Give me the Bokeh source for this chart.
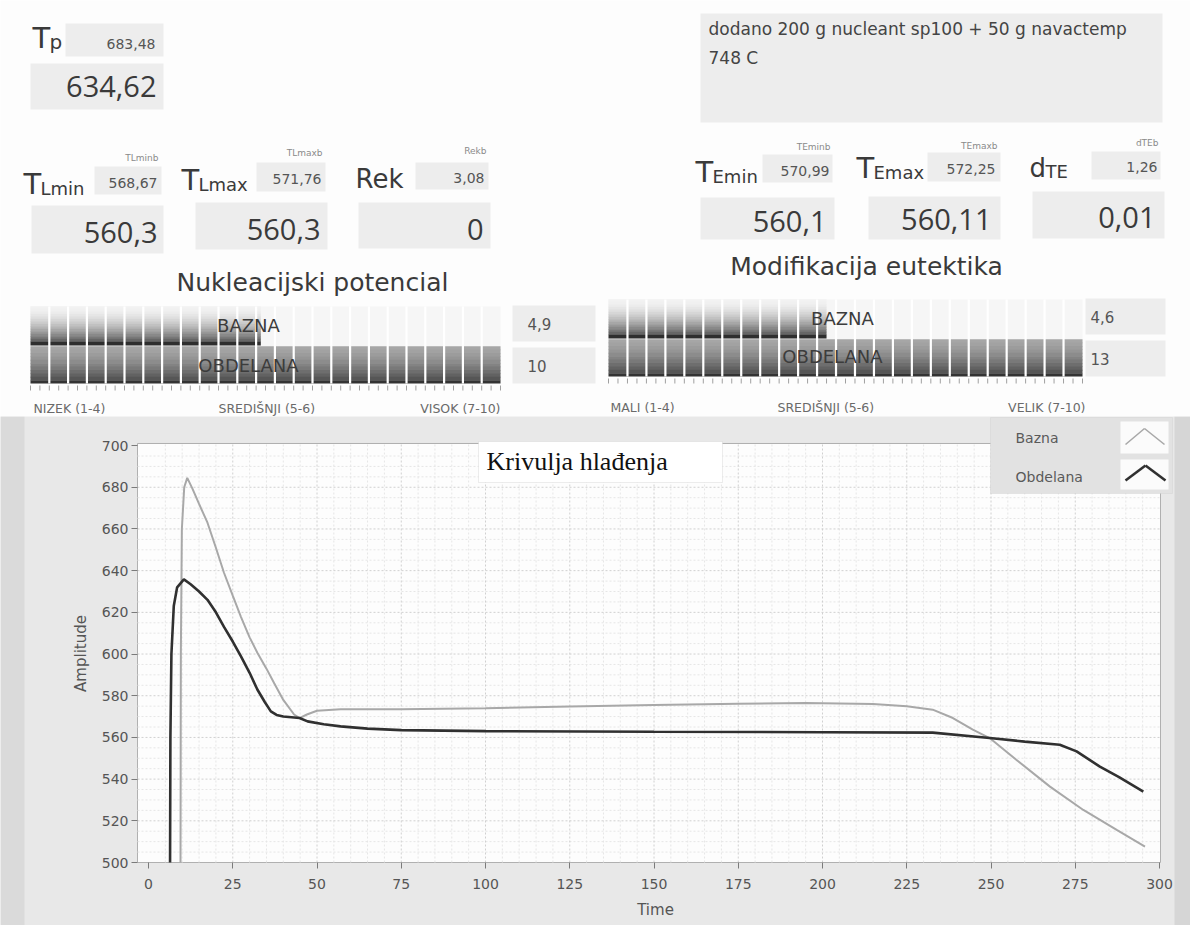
import numpy as np
from bokeh.plotting import figure
from bokeh.models import Range1d, Label, BoxAnnotation, Arrow, FixedTicker, ColumnDataSource, LinearAxis
from bokeh.layouts import column
from bokeh.embed import file_html
from bokeh.resources import INLINE
from bokeh.core.properties import value

# ---------------- data ----------------
series_names = ["Bazna", "Obdelana"]
time_bazna = [9.5, 9.6, 9.9, 10.6, 11.5, 13.0, 15.0, 17.5, 20.0, 22.4, 25.0, 27.4, 30.0, 32.3,
              35.0, 37.3, 40.0, 43.2, 44.8, 47.0, 50.0, 57.0, 75.0, 100.0, 125.0, 150.0, 175.0,
              195.0, 215.0, 225.0, 232.7, 238.7, 244.6, 249.6, 257.5, 267.5, 277.4, 287.3, 295.7]
temp_bazna = [500, 600, 660, 680, 684.5, 679.5, 672, 663, 651, 639, 628, 618, 608, 600.6,
              593, 586, 578, 571, 569.3, 571, 572.8, 573.5, 573.5, 574, 574.8, 575.5, 576.2,
              576.5, 576, 575, 573.3, 569.3, 563.7, 559.7, 549.3, 536.4, 525.2, 515.6, 507.6]
time_obdelana = [6.4, 6.5, 6.8, 7.5, 8.5, 10.5, 12.5, 15.0, 17.5, 20.0, 22.4, 25.0, 27.4, 30.0,
                 32.3, 34.5, 36.3, 38.0, 40.0, 44.8, 47.2, 52.0, 57.0, 65.0, 75.0, 100.0, 150.0,
                 200.0, 232.7, 249.6, 260.0, 270.4, 275.4, 282.3, 288.0, 295.2]
temp_obdelana = [500, 560, 600, 623, 632, 635.8, 633.5, 630, 626, 620, 613, 606, 599, 591,
                 583, 577, 572.5, 570.8, 570, 569.3, 567.7, 566.3, 565.3, 564.2, 563.5, 563, 562.7,
                 562.5, 562.3, 559.7, 558, 556.5, 553.3, 546, 541, 534]
x_ticks = [0, 25, 50, 75, 100, 125, 150, 175, 200, 225, 250, 275, 300]
y_ticks = [500, 520, 540, 560, 580, 600, 620, 640, 660, 680, 700]
chart_title = "Krivulja hlađenja"
x_label = "Time"
y_label = "Amplitude"

indicator_main = ["T", "T", "T", "Rek", "T", "T", "d"]
indicator_sub = ["p", "Lmin", "Lmax", "", "Emin", "Emax", "TE"]
indicator_ref_names = ["", "TLminb", "TLmaxb", "Rekb", "TEminb", "TEmaxb", "dTEb"]
indicator_ref_values = ["683,48", "568,67", "571,76", "3,08", "570,99", "572,25", "1,26"]
indicator_values = ["634,62", "560,3", "560,3", "0", "560,1", "560,11", "0,01"]
note_lines = ["dodano 200 g nucleant sp100 + 50 g navactemp", "748 C"]

meter_titles = ["Nukleacijski potencial", "Modifikacija eutektika"]
meter_rows = ["BAZNA", "OBDELANA"]
nukleacija_values = [4.9, 10]
nukleacija_texts = ["4,9", "10"]
modifikacija_values = [4.6, 13]
modifikacija_texts = ["4,6", "13"]
meter_max = 10
nukleacija_scale = ["NIZEK (1-4)", "SREDIŠNJI (5-6)", "VISOK (7-10)"]
modifikacija_scale = ["MALI (1-4)", "SREDIŠNJI (5-6)", "VELIK (7-10)"]

FONT = "DejaVu Sans"
NUMFONT = "Open Sans"
W = 1190
TOP_H = 416
CHART_H = 509


def mix(c1, c2, f):
    a = [int(c1[i:i + 2], 16) for i in (1, 3, 5)]
    b = [int(c2[i:i + 2], 16) for i in (1, 3, 5)]
    return "#%02x%02x%02x" % tuple(int(round(a[k] + (b[k] - a[k]) * f)) for k in range(3))


# ---------------- top panel (pixel layout) ----------------
top = figure(width=W, height=TOP_H, x_range=Range1d(0, W), y_range=Range1d(TOP_H, 0),
             output_backend="svg", toolbar_location=None, min_border=0,
             x_axis_location=None, y_axis_location=None)
top.grid.visible = False
top.outline_line_color = None
top.background_fill_color = "#fdfdfd"
top.border_fill_color = "#fdfdfd"

BOX = "#ededed"

# lx: label left, lb: label baseline, sb: small box, st: small text (right, y), rn: ref-name (right, y)
# bb: big box, bt: big text (right, y)
ind_layout = [
    dict(lx=32, lb=48, sb=(65, 163, 23, 56), st=(155, 43), rn=(158, 16), bb=(30, 163, 63, 109), bt=(156, 86)),
    dict(lx=23, lb=194, sb=(94, 161, 166, 194), st=(157, 182), rn=(158, 157), bb=(31, 163, 205, 253), bt=(157, 232)),
    dict(lx=181, lb=190, sb=(256, 325, 162, 191), st=(321, 178), rn=(322, 152), bb=(195, 327, 202, 249), bt=(320, 229)),
    dict(lx=355, lb=188, sb=(415, 488, 162, 189), st=(484, 177), rn=(486, 150), bb=(358, 490, 202, 248), bt=(483, 229)),
    dict(lx=695, lb=182, sb=(762, 832, 154, 182), st=(829, 170), rn=(830, 146), bb=(700, 834, 197, 239), bt=(826, 221)),
    dict(lx=856, lb=178, sb=(927, 1000, 152, 181), st=(995, 168), rn=(997, 145), bb=(868, 1000, 196, 239), bt=(991, 219)),
    dict(lx=1029, lb=177, sb=(1091, 1160, 151, 179), st=(1157, 166), rn=(1158, 142), bb=(1032, 1164, 191, 238), bt=(1155, 217)),
]

for i, L in enumerate(ind_layout):
    x0, x1, y0, y1 = L["sb"]
    top.quad(left=x0, right=x1, top=y0, bottom=y1, fill_color=BOX, line_color=None)
    x0, x1, y0, y1 = L["bb"]
    top.quad(left=x0, right=x1, top=y0, bottom=y1, fill_color=BOX, line_color=None)
    main = indicator_main[i]
    main_size = 29 if main == "T" else 26
    top.text(x=[L["lx"]], y=[L["lb"] - 0.35 * main_size], text=[main], text_font=value(FONT),
             text_font_size="%dpx" % main_size, text_color="#3a3a3a", text_baseline="middle")
    if indicator_sub[i]:
        mw = 17 if main == "T" else 16
        sub_size = 20 if indicator_sub[i] == "p" else 18
        top.text(x=[L["lx"] + mw], y=[L["lb"] - 0.35 * sub_size], text=[indicator_sub[i]],
                 text_font=value(FONT), text_font_size="%dpx" % sub_size, text_color="#3a3a3a",
                 text_baseline="middle")
    if indicator_ref_names[i]:
        top.text(x=[L["rn"][0]], y=[L["rn"][1]], text=[indicator_ref_names[i]], text_font=value(FONT),
                 text_font_size="9px", text_color="#8a8a8a", text_align="right", text_baseline="middle")
    top.text(x=[L["st"][0]], y=[L["st"][1]], text=[indicator_ref_values[i]], text_font=value(FONT),
             text_font_size="14px", text_color="#555555", text_align="right", text_baseline="middle")
    top.text(x=[L["bt"][0]], y=[L["bt"][1]], text=[indicator_values[i]], text_font=value(NUMFONT),
             text_font_size="29px", text_color="#3a3a3a", text_align="right", text_baseline="middle")

top.quad(left=700, right=1162, top=13, bottom=122, fill_color=BOX, line_color=None)
top.text(x=[708, 708], y=[28, 57], text=note_lines, text_font=value(FONT), text_font_size="17px",
         text_color="#444444", text_baseline="middle")

top.text(x=[312, 866], y=[282, 266], text=meter_titles, text_font=value(FONT), text_font_size="25px",
         text_color="#3a3a3a", text_align="center", text_baseline="middle")

meters = [
    dict(name="nuk", px0=30, px1=500, vals=nukleacija_values, texts=nukleacija_texts, scale=nukleacija_scale,
         rowA=(306, 345), rowB=(346, 383), vbox=(512, 595), vtext_x=527, ticks_y=(385, 390), scale_y=408,
         scale_x=(33, 218, 500), labA=(248, 325), labB=(248, 365)),
    dict(name="mod", px0=608, px1=1082, vals=modifikacija_values, texts=modifikacija_texts, scale=modifikacija_scale,
         rowA=(299, 338), rowB=(339, 376), vbox=(1085, 1165), vtext_x=1090, ticks_y=(378, 383), scale_y=407,
         scale_x=(610, 777, 1085), labA=(842, 318), labB=(832, 356)),
]

for M in meters:
    k = (M["px1"] - M["px0"]) / meter_max
    top.extra_x_ranges[M["name"]] = Range1d((0 - M["px0"]) / k, (W - M["px0"]) / k)
    rn = M["name"]
    top.hbar(y=[(M["rowA"][0] + M["rowB"][1]) / 2], height=M["rowB"][1] - M["rowA"][0], left=0,
             right=meter_max, fill_color="#f6f6f6", line_color=None, x_range_name=rn)
    strips = dict(y=[], h=[], right=[], color=[])
    a0, a1 = M["rowA"]
    n = 14
    hA = (a1 - 4 - a0) / n
    for s in range(n):
        f = (s / (n - 1)) ** 1.7
        strips["y"].append(a0 + hA * (s + 0.5))
        strips["h"].append(hA + 0.6)
        strips["right"].append(min(M["vals"][0], meter_max))
        strips["color"].append(mix("#f2f2f2", "#666666", f))
    strips["y"].append(a1 - 2)
    strips["h"].append(4)
    strips["right"].append(min(M["vals"][0], meter_max))
    strips["color"].append("#2e2e2e")
    b0, b1 = M["rowB"]
    n = 10
    hB = (b1 - 3 - b0) / n
    for s in range(n):
        f = (s / (n - 1)) ** 1.4
        strips["y"].append(b0 + hB * (s + 0.5))
        strips["h"].append(hB + 0.6)
        strips["right"].append(min(M["vals"][1], meter_max))
        strips["color"].append(mix("#a6a6a6", "#565656", f))
    strips["y"].append(b1 - 1.5)
    strips["h"].append(3)
    strips["right"].append(min(M["vals"][1], meter_max))
    strips["color"].append("#333333")
    top.hbar(y="y", height="h", left=0, right="right", fill_color="color", line_color=None,
             source=ColumnDataSource(strips), x_range_name=rn)
    seps = list(np.arange(0.4, meter_max, 0.4))
    top.segment(x0=seps, x1=seps, y0=[a0] * len(seps), y1=[b1] * len(seps), line_color="#ffffff",
                line_width=2.2, x_range_name=rn)
    tks = list(np.arange(0, meter_max + 0.01, 0.2))
    top.segment(x0=tks, x1=tks, y0=[M["ticks_y"][0]] * len(tks), y1=[M["ticks_y"][1]] * len(tks),
                line_color="#a0a0a0", line_width=1, x_range_name=rn)
    top.text(x=[M["labA"][0], M["labB"][0]], y=[M["labA"][1], M["labB"][1]], text=meter_rows,
             text_font=value(FONT), text_font_size="18px", text_color="#3c3c3c",
             text_align="center", text_baseline="middle")
    vx0, vx1 = M["vbox"]
    top.quad(left=[vx0, vx0], right=[vx1, vx1], top=[a0 - 1, b0 + 1], bottom=[a1 - 4, b1],
             fill_color=BOX, line_color=None)
    top.text(x=[M["vtext_x"]] * 2, y=[(a0 + a1) / 2 - 2, (b0 + b1) / 2 + 1], text=M["texts"],
             text_font=value(FONT), text_font_size="15px", text_color="#555555", text_baseline="middle")
    sx = M["scale_x"]
    top.text(x=[sx[0], sx[1]], y=[M["scale_y"]] * 2, text=M["scale"][:2], text_font=value(FONT),
             text_font_size="12.5px", text_color="#6a6a6a", text_baseline="middle")
    top.text(x=[sx[2]], y=[M["scale_y"]], text=[M["scale"][2]], text_font=value(FONT),
             text_font_size="12.5px", text_color="#6a6a6a", text_baseline="middle", text_align="right")

# ---------------- chart (frame spans the whole figure; axes at fixed locations) ----------------
PX_T0, PPU_X = 148, 3.37      # screen x of t=0, pixels per time unit
PX_V500, PPU_Y = 862, 2.0846  # screen y of amplitude 500, pixels per amplitude unit
PLOT_L, PLOT_R = 137, 1160
PLOT_YMAX = 701
BOTTOM = TOP_H + CHART_H


def ax(px):
    return (px - PX_T0) / PPU_X


def ay(py):
    return 500 + (PX_V500 - py) / PPU_Y


p = figure(width=W, height=CHART_H, x_range=Range1d(ax(0), ax(W)), y_range=Range1d(ay(BOTTOM), ay(TOP_H)),
           output_backend="svg", toolbar_location=None, x_axis_location=None, y_axis_location=None,
           min_border=0)
p.grid.visible = False
p.outline_line_color = None
p.background_fill_color = "#e8e8e8"
p.border_fill_color = "#e8e8e8"

# side shading of the panel
p.add_layout(BoxAnnotation(right=ax(24), fill_color="#dadada", fill_alpha=1, line_color=None))
p.add_layout(BoxAnnotation(left=ax(1174), fill_color="#d6d6d6", fill_alpha=1, line_color=None))

# plot area
p.quad(left=ax(PLOT_L), right=ax(PLOT_R), bottom=500, top=PLOT_YMAX, fill_color="#fdfdfd",
       line_color="#b0b0b0", line_width=1)
x_minor = [v for v in np.arange(5, 300, 5) if v not in x_ticks]
y_minor = [v for v in np.arange(505, 700, 5) if v not in y_ticks]
p.segment(x0=x_minor, x1=x_minor, y0=[500] * len(x_minor), y1=[PLOT_YMAX] * len(x_minor),
          line_color="#e6e6e6", line_dash="2 2")
p.segment(x0=[ax(PLOT_L)] * len(y_minor), x1=[ax(PLOT_R)] * len(y_minor), y0=y_minor, y1=y_minor,
          line_color="#e6e6e6", line_dash="2 2")
p.segment(x0=x_ticks[1:-1], x1=x_ticks[1:-1], y0=[500] * (len(x_ticks) - 2), y1=[PLOT_YMAX] * (len(x_ticks) - 2),
          line_color="#d0d0d0", line_dash="2 2")
p.segment(x0=[ax(PLOT_L)] * (len(y_ticks) - 2), x1=[ax(PLOT_R)] * (len(y_ticks) - 2), y0=y_ticks[1:-1],
          y1=y_ticks[1:-1], line_color="#d0d0d0", line_dash="2 2")

p.line(time_bazna, temp_bazna, line_color="#a8a8a8", line_width=2)
p.line(time_obdelana, temp_obdelana, line_color="#303030", line_width=2.6)

xaxis = LinearAxis(ticker=FixedTicker(ticks=x_ticks), fixed_location=500)
yaxis = LinearAxis(ticker=FixedTicker(ticks=y_ticks), fixed_location=ax(PLOT_L))
p.add_layout(xaxis, "below")
p.add_layout(yaxis, "left")
for a in (xaxis, yaxis):
    a.axis_line_color = None
    a.major_tick_line_color = "#7a7a7a"
    a.major_tick_out = 6
    a.major_tick_in = 0
    a.minor_tick_out = 0
    a.minor_tick_in = 0
    a.major_label_text_font = FONT
    a.major_label_text_font_size = "14px"
    a.major_label_text_color = "#555555"
xaxis.major_label_standoff = 10
yaxis.major_label_standoff = 3

# axis titles placed where the reference shows them
p.add_layout(Label(x=ax(655), y=ay(909), text=x_label, text_font=FONT, text_font_size="15px",
                   text_color="#555555", text_align="center", text_baseline="middle"))
p.add_layout(Label(x=ax(80), y=ay(653), text=y_label, text_font=FONT, text_font_size="15px",
                   text_color="#555555", text_align="center", text_baseline="middle",
                   angle=90, angle_units="deg"))

# title box
p.add_layout(BoxAnnotation(left=ax(478), right=ax(722), top=ay(441), bottom=ay(482),
                           fill_color="#ffffff", fill_alpha=1, line_color="#c4c4c4", line_width=1))
p.add_layout(Label(x=ax(486), y=ay(461), text=chart_title, text_font="Liberation Serif",
                   text_font_size="26px", text_color="#111111", text_baseline="middle"))

# legend
p.add_layout(BoxAnnotation(left=ax(990), right=ax(1172), top=ay(417), bottom=ay(493),
                           fill_color="#e2e2e2", fill_alpha=1, line_color="#c8c8c8", line_width=1))
for (yy0, yy1) in [(421, 453), (459, 489)]:
    p.add_layout(BoxAnnotation(left=ax(1120), right=ax(1168), top=ay(yy0), bottom=ay(yy1),
                               fill_color="#fbfbfb", fill_alpha=1, line_color=None))
chev = [((1125, 444), (1144, 428), (1164, 444)), ((1125, 480), (1145, 465), (1165, 480))]
chev_style = [("#a8a8a8", 1.6), ("#303030", 2.6)]
for (a_, b_, c_), (col, lw) in zip(chev, chev_style):
    for s, e in ((a_, b_), (b_, c_)):
        p.add_layout(Arrow(x_start=ax(s[0]), y_start=ay(s[1]), x_end=ax(e[0]), y_end=ay(e[1]),
                           end=None, line_color=col, line_width=lw))
for name, yy in zip(series_names, [437, 476]):
    p.add_layout(Label(x=ax(1015), y=ay(yy), text=name, text_font=FONT, text_font_size="14px",
                       text_color="#5a5a5a", text_baseline="middle"))

layout = column(top, p, spacing=0)
open("out.html", "w").write(file_html(layout, INLINE))
